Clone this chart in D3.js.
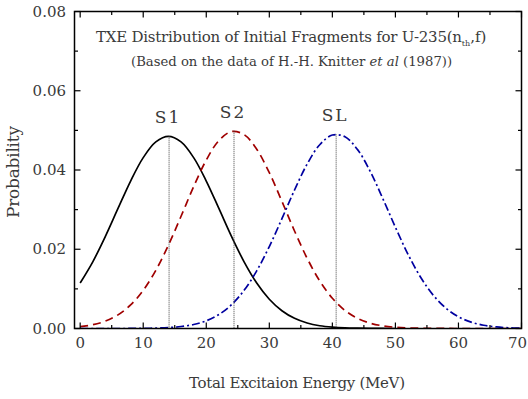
<!DOCTYPE html>
<html><head><meta charset="utf-8">
<script src="https://cdn.jsdelivr.net/npm/d3@7"></script>
<style>
body{margin:0;background:#fff;}
svg text{font-family:"DejaVu Serif","Liberation Serif",serif;}
</style></head>
<body><svg id="c" width="528" height="399"></svg>
<script>
const energy = [0,2,4,6,8,10,12,14,16,18,20,22,24,26,28,30,32,34,36,38,40,42,44,46,48,50,52,54,56,58,60,62,64,66,68,70];
const s1 = [0.01148,0.01683,0.02325,0.03029,0.03722,0.04312,0.04709,0.0485,0.04709,0.04312,0.03722,0.03029,0.02325,0.01683,0.01148,0.00739,0.00448,0.00256,0.00138,0.0007,0.00034,0.00015,0.00007,0.00003,0.00001,0];
const s2 = [0.00046,0.00095,0.00187,0.00344,0.00594,0.00963,0.01469,0.02105,0.02832,0.0358,0.04251,0.04743,0.0497,0.04893,0.04525,0.03932,0.03209,0.02461,0.01772,0.01199,0.00762,0.00455,0.00255,0.00135,0.00067,0.00031,0.00014,0.00006,0.00002,0.00001,0,0,0,0,0,0];
const sl = [0,0,0,0,0.00001,0.00004,0.0001,0.00023,0.0005,0.00101,0.00194,0.00352,0.006,0.00963,0.01454,0.02069,0.02771,0.03495,0.04149,0.04638,0.04882,0.04838,0.04514,0.03966,0.0328,0.02555,0.01873,0.01293,0.00841,0.00515,0.00296,0.00161,0.00082,0.0004,0.00018,0.00008];
const peakNames = ["S1","S2","SL"];
const peakX = [14.1,24.4,40.6];
const peakY = [0.0485,0.0499,0.0490];
const xTicks = [0,10,20,30,40,50,60,70];
const yTicks = [0,0.02,0.04,0.06,0.08];

const svg = d3.select("#c");
const L=74.5, R=521.5, T=11.5, B=328.5;
const x = d3.scaleLinear().domain([-0.9,70]).range([L,R]);
const y = d3.scaleLinear().domain([0,0.08]).range([B,T]);
const txt = "#3a3a3a";
const FONT = "'DejaVu Serif','Liberation Serif',serif";

const line = d3.line().x(d=>x(d[0])).y(d=>y(d[1])).curve(d3.curveCatmullRom);
const series = [
  {v:s1, color:"#000", dash:null},
  {v:s2, color:"#a00000", dash:"8,5"},
  {v:sl, color:"#0000a0", dash:"8,3,2,3"}
];
svg.append("clipPath").attr("id","pc").append("rect").attr("x",L).attr("y",T).attr("width",R-L).attr("height",B-T);
series.forEach(s=>{
  const pts = s.v.map((v,i)=>[energy[i],v]);
  svg.append("path").attr("d",line(pts)).attr("fill","none").attr("stroke",s.color)
    .attr("stroke-width",1.7).attr("stroke-dasharray",s.dash).attr("clip-path","url(#pc)");
});

function T_(sel){ return sel.attr("font-family",FONT).attr("fill",txt); }

peakX.forEach((px,i)=>{
  svg.append("line").attr("x1",x(px)).attr("x2",x(px)).attr("y1",y(peakY[i])).attr("y2",B)
    .attr("stroke","#444").attr("stroke-width",1).attr("stroke-dasharray","1,1");
  T_(svg.append("text")).attr("x",x(px)-1).attr("y",y(peakY[i])-13).attr("text-anchor","middle")
    .attr("font-size",17).attr("letter-spacing",2).text(peakNames[i]);
});

svg.append("rect").attr("x",L).attr("y",T).attr("width",R-L).attr("height",B-T).attr("fill","none").attr("stroke","#000").attr("stroke-width",1.5);

const g = svg.append("g").attr("stroke","#000").attr("stroke-width",1.2);
d3.range(0,71,5).forEach(v=>{
  const len = v%10===0?6:3.5;
  g.append("line").attr("x1",x(v)).attr("x2",x(v)).attr("y1",B).attr("y2",B-len);
  g.append("line").attr("x1",x(v)).attr("x2",x(v)).attr("y1",T).attr("y2",T+len);
});
d3.range(0,9).forEach(k=>{
  const v=k*0.01, len = k%2===0?6:3.5;
  g.append("line").attr("x1",L).attr("x2",L+len).attr("y1",y(v)).attr("y2",y(v));
  g.append("line").attr("x1",R).attr("x2",R-len).attr("y1",y(v)).attr("y2",y(v));
});

xTicks.forEach((v,i)=>{
  const last = i===xTicks.length-1;
  T_(svg.append("text")).attr("x",last?527:x(v)).attr("y",348).attr("text-anchor",last?"end":"middle").attr("font-size",15).text(v);
});
yTicks.forEach(v=>{
  T_(svg.append("text")).attr("x",66).attr("y",y(v)+5).attr("text-anchor","end").attr("font-size",15).text(d3.format(".2f")(v));
});

T_(svg.append("text")).attr("x",297).attr("y",388).attr("text-anchor","middle").attr("font-size",15)
  .attr("textLength",216).attr("lengthAdjust","spacing").text("Total Excitaion Energy (MeV)");
T_(svg.append("text")).attr("transform","translate(19,172) rotate(-90)").attr("text-anchor","middle").attr("font-size",17)
  .attr("textLength",92).attr("lengthAdjust","spacing").text("Probability");

const t1 = T_(svg.append("text")).attr("x",96).attr("y",42).attr("font-size",15);
t1.append("tspan").attr("textLength",366).attr("lengthAdjust","spacing").text("TXE Distribution of Initial Fragments for U-235(n");
t1.append("tspan").attr("font-size",8).attr("dy",4).text("th");
t1.append("tspan").attr("dy",-4).text(",f)");
const t2 = T_(svg.append("text")).attr("x",131).attr("y",66).attr("font-size",13.2);
t2.append("tspan").text("(Based on the data of H.-H. Knitter ");
t2.append("tspan").attr("font-style","italic").text("et al");
t2.append("tspan").text(" (1987))");
</script></body></html>
